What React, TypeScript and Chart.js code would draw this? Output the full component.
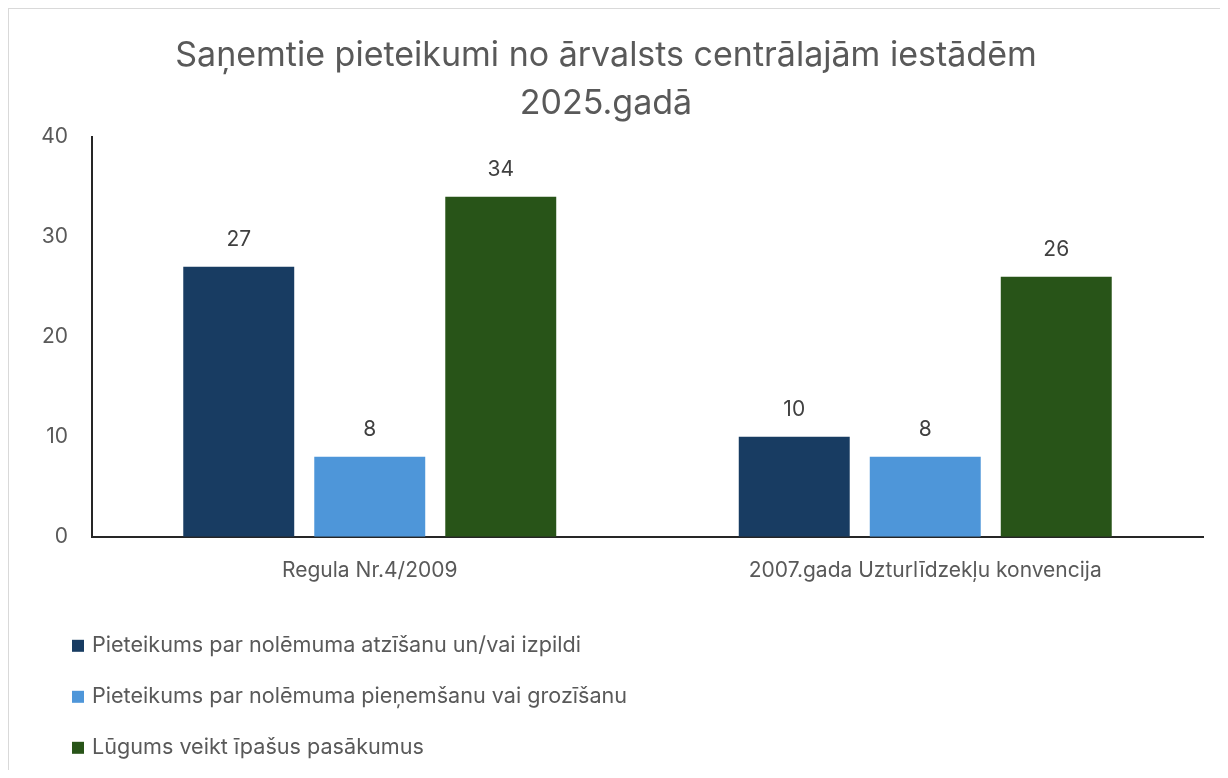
import React, { useEffect, useRef } from "react";
import { Chart, registerables } from "chart.js";

Chart.register(...registerables);

const titleLines = ["Saņemtie pieteikumi no ārvalsts centrālajām iestādēm", "2025.gadā"];
const categories = ["Regula Nr.4/2009", "2007.gada Uzturlīdzekļu konvencija"];
const seriesNames = [
  "Pieteikums par nolēmuma atzīšanu un/vai izpildi",
  "Pieteikums par nolēmuma pieņemšanu vai grozīšanu",
  "Lūgums veikt īpašus pasākumus",
];
const recognitionValues = [27, 10];
const modificationValues = [8, 8];
const specialMeasuresValues = [34, 26];
const seriesColors = ["#183C62", "#4E96D9", "#285418"];
const yTicks = [0, 10, 20, 30, 40];

const FONT = "Inter, 'Noto Sans', sans-serif";

const dataLabelPlugin = {
  id: "dataLabels",
  afterDatasetsDraw(chart: any) {
    const ctx = chart.ctx;
    ctx.save();
    ctx.font = `21px ${FONT}`;
    ctx.fillStyle = "#404040";
    ctx.textAlign = "center";
    ctx.textBaseline = "middle";
    chart.data.datasets.forEach((ds: any, i: number) => {
      const meta = chart.getDatasetMeta(i);
      meta.data.forEach((el: any, j: number) => {
        ctx.fillText(String(ds.data[j]), el.x, el.y - 27);
      });
    });
    ctx.restore();
  },
};

const verticalLegendPlugin = {
  id: "verticalLegend",
  afterDraw(chart: any) {
    const ctx = chart.ctx;
    const baseY = chart.chartArea.bottom + 109;
    ctx.save();
    ctx.font = `21.6px ${FONT}`;
    ctx.textBaseline = "middle";
    ctx.textAlign = "left";
    chart.data.datasets.forEach((ds: any, i: number) => {
      const y = baseY + i * 51;
      ctx.fillStyle = ds.backgroundColor;
      ctx.fillRect(63, y - 6, 12, 12);
      ctx.fillStyle = "#595959";
      ctx.fillText(ds.label, 83, y);
    });
    ctx.restore();
  },
};

export default function App() {
  const ref = useRef<HTMLCanvasElement | null>(null);

  useEffect(() => {
    if (!ref.current) return;
    const values = [recognitionValues, modificationValues, specialMeasuresValues];
    const chart = new Chart(ref.current, {
      type: "bar",
      data: {
        labels: categories,
        datasets: seriesNames.map((name, i) => ({
          label: name,
          data: values[i],
          backgroundColor: seriesColors[i],
          borderWidth: 0,
          categoryPercentage: 0.7075,
          barPercentage: 0.847,
        })),
      },
      options: {
        animation: false,
        responsive: false,
        maintainAspectRatio: false,
        layout: { padding: { left: 0, right: 25, top: 0, bottom: 166 } },
        plugins: {
          legend: { display: false },
          tooltip: { enabled: false },
          title: {
            display: true,
            text: titleLines,
            color: "#595959",
            font: { family: FONT, size: 34, weight: "normal", lineHeight: 1.41 },
            padding: { top: 23, bottom: 9 },
          },
        },
        scales: {
          x: {
            grid: { display: false, drawTicks: false },
            border: { display: true, color: "#262626", width: 2 },
            ticks: {
              color: "#595959",
              font: { family: FONT, size: 21 },
              padding: 21,
            },
          },
          y: {
            min: 0,
            max: 40,
            afterFit(scale: any) {
              scale.width = 83;
            },
            afterBuildTicks(scale: any) {
              scale.ticks = yTicks.map((v) => ({ value: v }));
            },
            grid: { display: false, drawTicks: false },
            border: { display: true, color: "#262626", width: 2 },
            ticks: {
              color: "#595959",
              font: { family: FONT, size: 21 },
              padding: 24,
            },
          },
        },
      },
      plugins: [dataLabelPlugin, verticalLegendPlugin],
    });
    return () => chart.destroy();
  }, []);

  return (
    <div
      style={{
        width: 1219,
        height: 761,
        borderTop: "1px solid #D9D9D9",
        borderLeft: "1px solid #D9D9D9",
        overflow: "hidden",
        marginRight: -8,
      }}
    >
      <canvas ref={ref} width={1219} height={761} style={{ display: "block" }} />
    </div>
  );
}
